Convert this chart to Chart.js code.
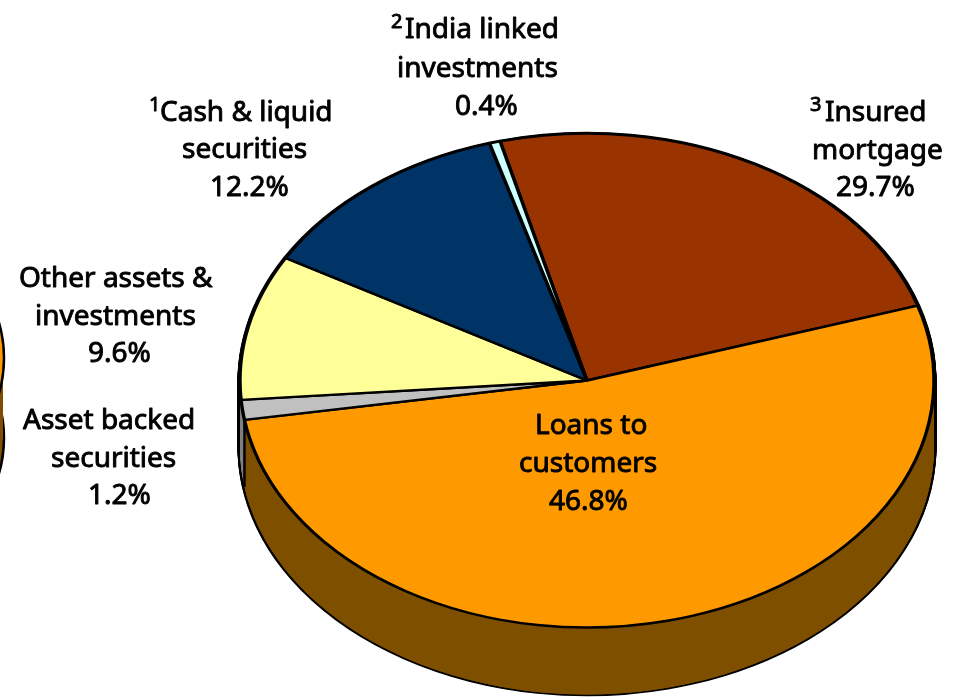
<!DOCTYPE html>
<html>
<head>
<meta charset="utf-8">
<style>html,body{margin:0;padding:0;background:#fff}canvas{display:block}</style>
<script src="https://cdn.jsdelivr.net/npm/chart.js@4"></script>
</head>
<body>
<canvas id="c" width="958" height="697"></canvas>
<script>
// Slices in drawn (clockwise) order, starting at the top of the pie.
const categories = ["Insured mortgage","Loans to customers","Asset backed securities","Other assets & investments","Cash & liquid securities","India linked investments"];
// Shares read from the slice angles as drawn in the picture (these differ from the printed
// labels for the two largest slices, which is how the source draws them).
const sliceShares = [24.1, 52.3, 1.3, 9.5, 12.2, 0.5];
// Percentages exactly as printed in the picture's labels.
const printedPercents = ["29.7%","46.8%","1.2%","9.6%","12.2%","0.4%"];
const topColors  = ["#993300","#FF9900","#C0C0C0","#FFFF99","#003366","#CCFFFF"];
const wallColors = ["#7F4F00","#7F4F00","#808080","#808080","#7F4F00","#7F4F00"];

const FONT = '"Noto Sans", sans-serif';
const CX = 587, CY = 380.5, R = 347, SQUASH = 247/347, DEPTH = 67;

// Label layout: [left x, baseline y, text, optional superscript, superscript x]
const labelLines = [
  [160,121,"Cash & liquid","1",149],[182,158,"securities"],[210,196,printedPercents[4]],
  [405,38,"India linked","2",391],[397,77,"investments"],[455,115,printedPercents[5]],
  [825,121,"Insured","3",810],[812,159,"mortgage"],[836,196,printedPercents[0]],
  [19,287,"Other assets &"],[35,325,"investments"],[88,362,printedPercents[3]],
  [23,429,"Asset backed"],[51,467,"securities"],[88,504,printedPercents[2]],
  [535,434,"Loans to"],[519,472,"customers"],[549,510,printedPercents[1]]
];

function squash(ctx, dy){
  ctx.translate(CX, CY + dy);
  ctx.scale(1, SQUASH);
  ctx.translate(-CX, -CY);
}
function drawLayer(ctx, arcs, dy, pick){
  ctx.save();
  squash(ctx, dy);
  arcs.forEach((arc,i)=>{
    const saved = arc.options;
    arc.options = Object.assign({}, saved, pick(i));
    arc.draw(ctx);
    arc.options = saved;
  });
  ctx.restore();
}

const pie3d = {
  id:'pie3d',
  beforeDatasetsDraw(chart){
    const ctx = chart.ctx, arcs = chart.getDatasetMeta(0).data;
    // silhouette of the side wall, then its fill
    for(let d=DEPTH; d>=0; d-=1) drawLayer(ctx, arcs, d, ()=>({backgroundColor:'#000',borderColor:'#000',borderWidth:5}));
    for(let d=DEPTH; d>=0; d-=1) drawLayer(ctx, arcs, d, i=>({backgroundColor:wallColors[i],borderColor:wallColors[i],borderWidth:0}));
    // one opaque coat over the front wall of the largest slice, so it has a single flat colour
    const seam = arcs[1];
    const x = seam.x + R*Math.cos(seam.endAngle), y = seam.y + R*SQUASH*Math.sin(seam.endAngle);
    ctx.save();
    ctx.fillStyle = wallColors[1];
    ctx.beginPath();
    ctx.moveTo(CX+R, CY);
    ctx.ellipse(CX, CY+DEPTH, R, R*SQUASH, 0, 0, seam.endAngle);
    ctx.lineTo(x, y);
    ctx.closePath();
    ctx.fill();
    // seam between the two visible wall colours
    ctx.strokeStyle='#000'; ctx.lineWidth=2.5;
    ctx.beginPath(); ctx.moveTo(x,y); ctx.lineTo(x,y+DEPTH); ctx.stroke();
    ctx.restore();
    ctx.save();
    squash(ctx,0);
  },
  afterDatasetsDraw(chart){
    chart.ctx.restore();
  },
  afterDraw(chart){
    const ctx = chart.ctx;
    // clipped edge of a neighbouring pie at the left border
    ctx.save();
    ctx.lineWidth=2.5; ctx.strokeStyle='#000';
    ctx.fillStyle='#7F4F00';
    ctx.beginPath(); ctx.ellipse(-100,438,104,116,0,0,Math.PI*2); ctx.fill(); ctx.stroke();
    ctx.fillRect(-10,360,13,80);
    ctx.fillStyle='#FF9900';
    ctx.beginPath(); ctx.ellipse(-100,358,104,116,0,0,Math.PI*2); ctx.fill(); ctx.stroke();
    ctx.restore();
    // labels
    ctx.save();
    ctx.fillStyle='#000'; ctx.strokeStyle='#000'; ctx.lineWidth=0.9; ctx.lineJoin='round';
    ctx.textBaseline='alphabetic'; ctx.textAlign='left';
    labelLines.forEach(([x,y,t,sup,sx])=>{
      ctx.font='28px '+FONT;
      ctx.fillText(t,x,y); ctx.strokeText(t,x,y);
      if(sup){
        ctx.font='20px '+FONT;
        ctx.fillText(sup,sx,y-10); ctx.strokeText(sup,sx,y-10);
      }
    });
    ctx.restore();
  }
};

new Chart(document.getElementById('c'),{
  type:'pie',
  data:{labels:categories,datasets:[{
    data:sliceShares,backgroundColor:topColors,borderColor:'#000',borderWidth:3.4,radius:R,clip:false
  }]},
  options:{
    responsive:false,animation:false,rotation:-14.5,
    layout:{padding:{left:216,top:64,right:0,bottom:0}},
    plugins:{legend:{display:false},tooltip:{enabled:false}}
  },
  plugins:[pie3d]
});
</script>
</body>
</html>
